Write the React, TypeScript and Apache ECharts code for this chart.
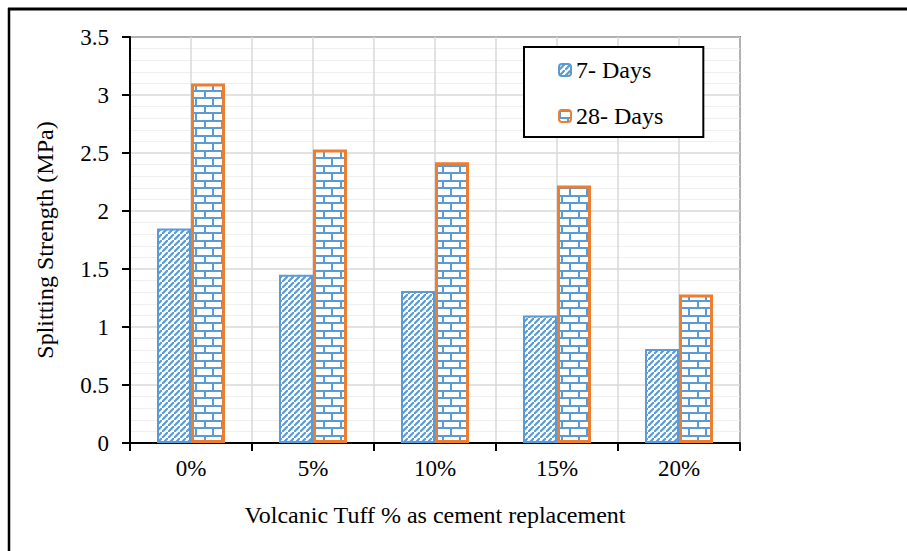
import React, { useEffect, useRef } from "react";
import * as echarts from "echarts";

const categories = ["0%", "5%", "10%", "15%", "20%"];
const days7 = [1.85, 1.45, 1.31, 1.1, 0.81];
const days28 = [3.1, 2.53, 2.42, 2.22, 1.28];
const seriesNames = ["7- Days", "28- Days"];
const gridCats = ["a", "b", "c", "d", "e", "f", "g", "h", "i", "j"];

const BLUE = "#5b9bd5";
const ORANGE = "#ed7d31";
const FONT = "Liberation Serif";

function hatchCanvas() {
  const s = 6;
  const c = document.createElement("canvas");
  c.width = s;
  c.height = s;
  const ctx = c.getContext("2d")!;
  ctx.fillStyle = "#fff";
  ctx.fillRect(0, 0, s, s);
  ctx.strokeStyle = BLUE;
  ctx.lineWidth = 2.2;
  ctx.beginPath();
  ctx.moveTo(-2, s + 2);
  ctx.lineTo(s + 2, -2);
  ctx.moveTo(-s - 2, 2);
  ctx.lineTo(2, -s - 2);
  ctx.moveTo(s - 2, 2 * s + 2);
  ctx.lineTo(2 * s + 2, s - 2);
  ctx.stroke();
  return c;
}

function brickCanvas() {
  const w = 17;
  const h = 15;
  const c = document.createElement("canvas");
  c.width = w;
  c.height = h;
  const ctx = c.getContext("2d")!;
  ctx.fillStyle = "#fff";
  ctx.fillRect(0, 0, w, h);
  ctx.fillStyle = BLUE;
  ctx.fillRect(0, 0, w, 2);
  ctx.fillRect(0, 7, w, 2);
  ctx.fillRect(0, 0, 2, 8);
  ctx.fillRect(8, 7, 2, 8);
  return c;
}

export default function App() {
  const ref = useRef<HTMLDivElement>(null);

  useEffect(() => {
    document.body.style.margin = "0";
    const chart = echarts.init(ref.current!, null, { renderer: "svg" });
    const hatch = hatchCanvas();
    const brick = brickCanvas();

    chart.setOption({
      animation: false,
      backgroundColor: "#fff",
      textStyle: { fontFamily: FONT },
      grid: {
        left: 130,
        right: 167,
        top: 37,
        bottom: 108,
        show: true,
        borderColor: "#000",
        borderWidth: 1.5,
        backgroundColor: "transparent",
      },
      legend: {
        orient: "vertical",
        left: 524,
        top: 47,
        z: 20,
        data: seriesNames,
        itemWidth: 12,
        itemHeight: 12,
        itemGap: 22,
        backgroundColor: "#fff",
        borderColor: "#000",
        borderWidth: 2,
        padding: [11, 40, 9, 34],
        textStyle: { fontFamily: FONT, fontSize: 24, color: "#000", lineHeight: 24 },
      },
      xAxis: [
        {
          type: "category",
          data: categories,
          position: "bottom",
          name: "Volcanic Tuff % as cement replacement",
          nameLocation: "middle",
          nameGap: 60,
          nameTextStyle: { fontFamily: FONT, fontSize: 24, color: "#000" },
          axisLine: { lineStyle: { color: "#000", width: 2 } },
          axisTick: { show: true, length: 8, lineStyle: { color: "#000", width: 2 } },
          axisLabel: { fontFamily: FONT, fontSize: 23, color: "#000", margin: 14 },
          splitLine: { show: false },
        },
        {
          type: "category",
          data: gridCats,
          position: "bottom",
          show: true,
          axisLine: { show: false },
          axisTick: { show: false },
          axisLabel: { show: false },
          splitLine: { show: true, lineStyle: { color: "#d9d9d9", width: 1.5 } },
        },
      ],
      yAxis: {
        type: "value",
        min: 0,
        max: 3.5,
        interval: 0.5,
        name: "Splitting Strength (MPa)",
        nameLocation: "middle",
        nameRotate: 90,
        nameGap: 73,
        nameTextStyle: { fontFamily: FONT, fontSize: 24, color: "#000" },
        axisLine: { show: true, lineStyle: { color: "#000", width: 2 } },
        axisTick: { show: true, length: 8, lineStyle: { color: "#000", width: 2 } },
        axisLabel: { fontFamily: FONT, fontSize: 23, color: "#000", margin: 21 },
        splitLine: { show: true, lineStyle: { color: "#d9d9d9", width: 1.5 } },
        minorTick: { show: false, splitNumber: 5 },
        minorSplitLine: { show: true, lineStyle: { color: "#efefef", width: 1 } },
      },
      series: [
        {
          name: seriesNames[0],
          type: "bar",
          xAxisIndex: 0,
          data: days7,
          barWidth: 34,
          barGap: "0%",
          itemStyle: {
            color: { image: hatch, repeat: "repeat", imageWidth: 6, imageHeight: 6 },
            borderColor: BLUE,
            borderWidth: 2,
          },
        },
        {
          name: seriesNames[1],
          type: "bar",
          xAxisIndex: 0,
          data: days28,
          barWidth: 34,
          barGap: "0%",
          itemStyle: {
            color: { image: brick, repeat: "repeat", imageWidth: 17, imageHeight: 15 },
            borderColor: ORANGE,
            borderWidth: 3,
          },
        },
      ],
      graphic: [
        {
          type: "line",
          shape: { x1: 8, y1: 9, x2: 907, y2: 9 },
          style: { stroke: "#000", lineWidth: 3 },
          z: 100,
        },
        {
          type: "line",
          shape: { x1: 9, y1: 8, x2: 9, y2: 551 },
          style: { stroke: "#000", lineWidth: 2.5 },
          z: 100,
        },
      ],
    });

    return () => {
      chart.dispose();
    };
  }, []);

  return <div ref={ref} style={{ width: 907, height: 551 }} />;
}
